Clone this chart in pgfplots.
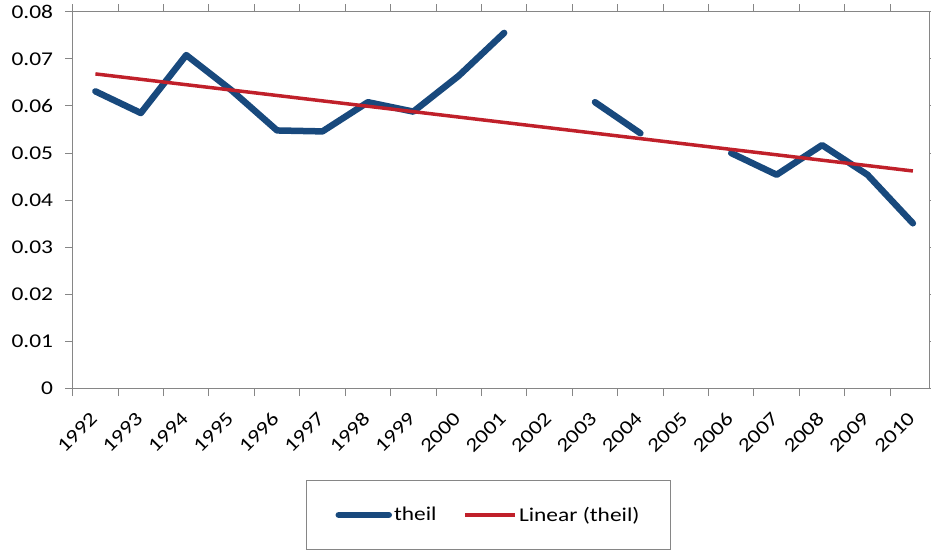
\documentclass[border=0pt]{standalone}
\usepackage{fontspec}
\setmainfont{Carlito}[FakeStretch=1.2]
\usepackage{pgfplots}
\usepackage{pgfplotstable}
\pgfplotsset{compat=1.18}
\definecolor{theilblue}{RGB}{24,73,125}
\definecolor{trendred}{RGB}{192,32,42}
\definecolor{axgray}{RGB}{134,134,134}

\pgfplotstableread{
x y
0 0.0631
1 0.0585
2 0.0708
3 0.0633
4 0.0548
5 0.0546
6 0.0608
7 0.0588
8 0.0664
9 0.0755
10 nan
11 0.0608
12 0.0542
13 nan
14 0.0500
15 0.0454
16 0.0517
17 0.0454
18 0.0351
}\theil

\pgfplotsset{lineleg/.style={legend image code/.code={\draw[##1] (0bp,0bp) -- (50bp,0bp);}}}

\begin{document}
\begin{tikzpicture}
\path[use as bounding box] (-72.7bp,-163.3bp) rectangle (858.3bp,388.7bp);
\begin{axis}[
  scale only axis, width=857bp, height=377bp,
  at={(0,0)}, anchor=south west,
  xmin=-0.5, xmax=18.37, ymin=0, ymax=0.08,
  axis line style={draw=axgray, line width=1bp},
  tick align=outside,
  scaled y ticks=false,
  xtick={0,...,18},
  xticklabels={1992,1993,1994,1995,1996,1997,1998,1999,2000,2001,2002,2003,2004,2005,2006,2007,2008,2009,2010},
  major x tick style={draw=none},
  minor xtick={-0.5,0.5,...,17.5},
  minor x tick style={draw=axgray, line width=1bp},
  minor tick length=7.5bp,
  ytick={0,0.01,...,0.08},
  yticklabels={0,0.01,0.02,0.03,0.04,0.05,0.06,0.07,0.08},
  major y tick style={draw=axgray, line width=1bp},
  major tick length=7.5bp,
  /pgf/number format/assume math mode=true,
  tick label style={font=\fontsize{19.5bp}{23bp}\selectfont, text=black},
  xticklabel style={rotate=45, anchor=east, inner sep=2bp},
  xticklabel shift=18bp,
  yticklabel style={inner sep=2bp},
  yticklabel shift=10bp,
  unbounded coords=jump,
  lineleg,
  legend columns=2,
  legend style={at={(0.4852,-0.2422)}, anchor=north, draw=axgray, line width=1bp,
    font=\fontsize{19.5bp}{23bp}\selectfont, inner xsep=29bp, inner ysep=24.5bp,
    /tikz/every even column/.append style={column sep=25bp}},
  legend cell align=left,
]
\addplot[theilblue, line width=6.5bp, line cap=round, line join=round]
  table[x=x, y=y] {\theil};
\addlegendentry{theil}
\addplot[trendred, line width=3.5bp]
  coordinates {(0,0.0668) (18,0.0462)};
\addlegendentry{Linear (theil)}
\end{axis}
\end{tikzpicture}
\end{document}
